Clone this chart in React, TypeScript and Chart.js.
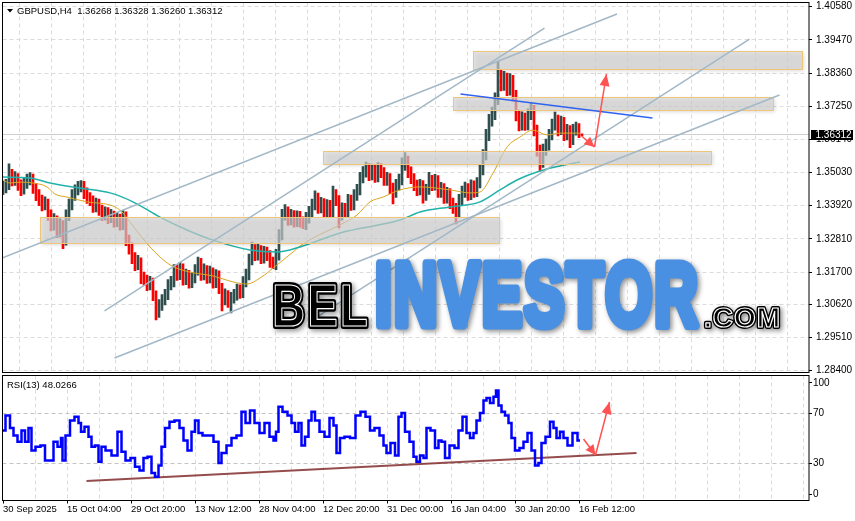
import React, { useEffect, useRef } from 'react';
import { Chart, registerables } from 'chart.js';

Chart.register(...registerables);

// ---------------- data ----------------
const symbolTitle = 'GBPUSD,H4  1.36268 1.36328 1.36260 1.36312';
const rsiTitle = 'RSI(13) 48.0266';
const lastPrice = 1.36312;
const firstOpen = 1.3445;
const barsPerCandle = 3; // each drawn column covers 3 H4 bars

const closes = [
  1.3451, 1.3461, 1.3495, 1.3478, 1.3485, 1.3461, 1.3445, 1.3468, 1.3478, 1.3485,
  1.3451, 1.3428, 1.3411, 1.3395, 1.3401, 1.3361, 1.3328, 1.3344, 1.3304, 1.3328,
  1.3277, 1.3361, 1.3395, 1.3428, 1.3445, 1.3458, 1.3461, 1.3435, 1.3418, 1.3411,
  1.3388, 1.3401, 1.3378, 1.3361, 1.3371, 1.3351, 1.3361, 1.3338, 1.3351, 1.3328,
  1.3361, 1.3277, 1.3251, 1.3217, 1.3194, 1.3204, 1.3150, 1.3144, 1.3127, 1.3137,
  1.3093, 1.3036, 1.3060, 1.3077, 1.3093, 1.3127, 1.3137, 1.3177, 1.3160, 1.3184,
  1.3144, 1.3160, 1.3134, 1.3150, 1.3177, 1.3204, 1.3160, 1.3177, 1.3150, 1.3170,
  1.3134, 1.3160, 1.3117, 1.3077, 1.3093, 1.3070, 1.3083, 1.3093, 1.3110, 1.3100,
  1.3137, 1.3160, 1.3210, 1.3244, 1.3227, 1.3244, 1.3217, 1.3237, 1.3227, 1.3204,
  1.3194, 1.3227, 1.3294, 1.3361, 1.3371, 1.3344, 1.3361, 1.3338, 1.3358, 1.3338,
  1.3328, 1.3351, 1.3371, 1.3395, 1.3418, 1.3384, 1.3401, 1.3371, 1.3395, 1.3371,
  1.3428, 1.3411, 1.3361, 1.3384, 1.3371, 1.3411, 1.3395, 1.3428, 1.3445, 1.3485,
  1.3505, 1.3518, 1.3495, 1.3512, 1.3488, 1.3518, 1.3505, 1.3478, 1.3485, 1.3451,
  1.3438, 1.3461, 1.3478, 1.3528, 1.3545, 1.3505, 1.3485, 1.3461, 1.3445, 1.3461,
  1.3428, 1.3445, 1.3478, 1.3461, 1.3478, 1.3438, 1.3451, 1.3418, 1.3435, 1.3401,
  1.3384, 1.3371, 1.3411, 1.3438, 1.3451, 1.3428, 1.3461, 1.3438, 1.3468, 1.3512,
  1.3562, 1.3629, 1.3679, 1.3696, 1.3746, 1.3829, 1.3796, 1.3820, 1.3779, 1.3813,
  1.3763, 1.3696, 1.3662, 1.3686, 1.3662, 1.3696, 1.3712, 1.3645, 1.3578, 1.3538,
  1.3578, 1.3595, 1.3629, 1.3662, 1.3679, 1.3645, 1.3672, 1.3629, 1.3645, 1.3612,
  1.3645, 1.3652, 1.3639, 1.36312,
];

const highs = [
  1.3474, 1.3480, 1.3532, 1.3514, 1.3506, 1.3500, 1.3479, 1.3486, 1.3498, 1.3503,
  1.3498, 1.3467, 1.3446, 1.3428, 1.3422, 1.3414, 1.3378, 1.3366, 1.3358, 1.3349,
  1.3342, 1.3378, 1.3414, 1.3446, 1.3462, 1.3474, 1.3476, 1.3474, 1.3452, 1.3436,
  1.3425, 1.3418, 1.3414, 1.3394, 1.3388, 1.3386, 1.3380, 1.3374, 1.3370, 1.3364,
  1.3376, 1.3372, 1.3294, 1.3268, 1.3235, 1.3226, 1.3218, 1.3170, 1.3160, 1.3156,
  1.3150, 1.3107, 1.3078, 1.3095, 1.3112, 1.3145, 1.3156, 1.3195, 1.3194, 1.3203,
  1.3198, 1.3180, 1.3176, 1.3168, 1.3195, 1.3220, 1.3216, 1.3198, 1.3192, 1.3190,
  1.3184, 1.3178, 1.3174, 1.3132, 1.3114, 1.3108, 1.3102, 1.3112, 1.3130, 1.3127,
  1.3155, 1.3180, 1.3230, 1.3270, 1.3262, 1.3264, 1.3259, 1.3256, 1.3254, 1.3242,
  1.3220, 1.3246, 1.3312, 1.3380, 1.3396, 1.3388, 1.3380, 1.3376, 1.3375, 1.3373,
  1.3355, 1.3370, 1.3390, 1.3414, 1.3442, 1.3434, 1.3420, 1.3416, 1.3413, 1.3410,
  1.3458, 1.3446, 1.3426, 1.3402, 1.3400, 1.3430, 1.3428, 1.3446, 1.3464, 1.3504,
  1.3523, 1.3538, 1.3533, 1.3531, 1.3527, 1.3536, 1.3533, 1.3520, 1.3504, 1.3500,
  1.3468, 1.3480, 1.3498, 1.3552, 1.3570, 1.3558, 1.3522, 1.3500, 1.3478, 1.3480,
  1.3476, 1.3464, 1.3504, 1.3494, 1.3497, 1.3493, 1.3470, 1.3466, 1.3454, 1.3449,
  1.3418, 1.3400, 1.3430, 1.3458, 1.3471, 1.3466, 1.3479, 1.3475, 1.3486, 1.3528,
  1.3580, 1.3648, 1.3698, 1.3722, 1.3770, 1.3876, 1.3848, 1.3842, 1.3836, 1.3834,
  1.3828, 1.3778, 1.3712, 1.3706, 1.3702, 1.3716, 1.3738, 1.3728, 1.3662, 1.3595,
  1.3598, 1.3615, 1.3648, 1.3682, 1.3705, 1.3695, 1.3692, 1.3688, 1.3664, 1.3660,
  1.3664, 1.3672, 1.3667, 1.36328,
];

const lows = [
  1.3429, 1.3435, 1.3446, 1.3458, 1.3460, 1.3443, 1.3426, 1.3431, 1.3450, 1.3462,
  1.3433, 1.3409, 1.3392, 1.3375, 1.3378, 1.3343, 1.3308, 1.3310, 1.3285, 1.3288,
  1.3248, 1.3260, 1.3342, 1.3378, 1.3410, 1.3428, 1.3438, 1.3416, 1.3400, 1.3392,
  1.3370, 1.3371, 1.3360, 1.3342, 1.3344, 1.3332, 1.3335, 1.3320, 1.3322, 1.3310,
  1.3312, 1.3258, 1.3230, 1.3198, 1.3175, 1.3178, 1.3131, 1.3125, 1.3108, 1.3110,
  1.3074, 1.3010, 1.3018, 1.3042, 1.3060, 1.3078, 1.3110, 1.3120, 1.3142, 1.3145,
  1.3126, 1.3128, 1.3116, 1.3118, 1.3134, 1.3160, 1.3142, 1.3144, 1.3132, 1.3134,
  1.3116, 1.3118, 1.3098, 1.3040, 1.3060, 1.3052, 1.3033, 1.3066, 1.3076, 1.3082,
  1.3084, 1.3120, 1.3144, 1.3194, 1.3208, 1.3210, 1.3198, 1.3200, 1.3208, 1.3186,
  1.3181, 1.3178, 1.3210, 1.3278, 1.3344, 1.3326, 1.3328, 1.3320, 1.3322, 1.3320,
  1.3315, 1.3312, 1.3334, 1.3354, 1.3378, 1.3366, 1.3368, 1.3352, 1.3355, 1.3352,
  1.3354, 1.3392, 1.3318, 1.3344, 1.3352, 1.3355, 1.3376, 1.3378, 1.3410, 1.3428,
  1.3468, 1.3488, 1.3476, 1.3478, 1.3470, 1.3472, 1.3486, 1.3460, 1.3460, 1.3432,
  1.3398, 1.3420, 1.3444, 1.3462, 1.3510, 1.3486, 1.3466, 1.3442, 1.3426, 1.3428,
  1.3401, 1.3410, 1.3430, 1.3442, 1.3444, 1.3420, 1.3420, 1.3400, 1.3401, 1.3382,
  1.3366, 1.3331, 1.3355, 1.3394, 1.3420, 1.3410, 1.3412, 1.3420, 1.3422, 1.3452,
  1.3495, 1.3545, 1.3610, 1.3658, 1.3680, 1.3730, 1.3776, 1.3778, 1.3760, 1.3762,
  1.3742, 1.3676, 1.3642, 1.3645, 1.3644, 1.3646, 1.3680, 1.3626, 1.3558, 1.3508,
  1.3520, 1.3560, 1.3578, 1.3612, 1.3645, 1.3626, 1.3630, 1.3610, 1.3612, 1.3586,
  1.3596, 1.3628, 1.3620, 1.3626,
];

// [bar, price]
const maFast = [
  [0, 1.3478], [7, 1.3468], [17, 1.3471], [30, 1.3468], [44, 1.3455], [52, 1.3431],
  [64, 1.3421], [84, 1.3405], [110, 1.3391], [119, 1.3371], [130, 1.3324], [147, 1.3254],
  [167, 1.3194], [187, 1.3170], [210, 1.3157], [230, 1.3137], [244, 1.3130], [257, 1.3150],
  [274, 1.3194], [290, 1.3237], [297, 1.3257], [310, 1.3284], [337, 1.3328], [354, 1.3361],
  [367, 1.3405], [380, 1.3421], [397, 1.3445], [417, 1.3455], [447, 1.3445], [467, 1.3435],
  [477, 1.3438], [490, 1.3501], [504, 1.3588], [517, 1.3622], [530, 1.3645], [544, 1.3629],
  [557, 1.3635], [577, 1.3635],
];
const maSlow = [
  [0, 1.3488], [27, 1.3485], [47, 1.3468], [77, 1.3451], [107, 1.3435], [130, 1.3405],
  [157, 1.3354], [184, 1.3311], [210, 1.3277], [247, 1.3244], [274, 1.3237], [297, 1.3254],
  [337, 1.3301], [397, 1.3344], [417, 1.3371], [447, 1.3388], [477, 1.3405], [497, 1.3445],
  [514, 1.3478], [537, 1.3508], [557, 1.3525], [577, 1.3538],
];

const priceTicks = [1.4058, 1.3947, 1.3836, 1.3725, 1.3614, 1.3503, 1.3392, 1.3281, 1.317, 1.3062, 1.2951, 1.284];
const timeLabels = ['30 Sep 2025', '15 Oct 04:00', '29 Oct 20:00', '13 Nov 12:00', '28 Nov 04:00', '12 Dec 20:00', '31 Dec 00:00', '16 Jan 04:00', '30 Jan 20:00', '16 Feb 12:00'];
const timeLabelBars = [0, 64, 128, 192, 256, 320, 384, 448, 512, 576];

// trend lines [bar, price]
const channelUpper = [[-1, 1.3217], [614, 1.40336]];
const channelMid = [[101.5, 1.30398], [541.5, 1.39867]];
const channelLower = [[111.5, 1.28825], [776.5, 1.37625]];
const channelInner = [[306.5, 1.3003], [746.5, 1.39499]];
const resistanceLine = [[457.5, 1.37659], [649.5, 1.36856]];
const arrowDown = [[578.5, 1.36253], [591.5, 1.35885]];
const arrowUp = [[591.5, 1.35885], [603.5, 1.38328]];
// zones [barFrom, barTo, priceTop, priceBottom]
const zones = [
  [469.5, 798.5, 1.391, 1.385],
  [449.5, 769.5, 1.3756, 1.3712],
  [319.5, 707.5, 1.3575, 1.3532],
  [36.5, 495.5, 1.3354, 1.3267],
];

// RSI [bar, value]
const rsiSeries = [
  [0, 56], [5, 68], [9, 58], [12, 52], [17, 47], [20, 56], [24, 47], [27, 58], [30, 40], [35, 43],
  [40, 44], [44, 32], [49, 32], [52, 47], [57, 43], [59, 50], [60, 32], [65, 52], [69, 64], [74, 67],
  [77, 62], [79, 55], [84, 59], [87, 51], [90, 43], [94, 44], [97, 31], [100, 43], [105, 40], [112, 36],
  [117, 55], [120, 39], [125, 32], [130, 34], [134, 27], [139, 24], [142, 34], [147, 35], [150, 22], [154, 19],
  [157, 28], [160, 43], [164, 58], [169, 63], [174, 64], [179, 58], [182, 48], [187, 40], [190, 55], [194, 64],
  [197, 54], [202, 52], [207, 52], [214, 47], [217, 30], [220, 38], [227, 44], [230, 50], [237, 52], [240, 71],
  [245, 62], [249, 72], [254, 62], [259, 54], [264, 62], [269, 51], [272, 48], [274, 55], [277, 75], [282, 71],
  [287, 68], [290, 62], [294, 55], [297, 62], [300, 44], [304, 51], [307, 64], [310, 71], [314, 64], [319, 55],
  [324, 51], [329, 66], [332, 60], [335, 38], [339, 50], [344, 51], [350, 50], [355, 68], [360, 71], [365, 67],
  [369, 56], [374, 58], [379, 52], [382, 44], [385, 38], [390, 46], [394, 36], [397, 67], [400, 70], [404, 55],
  [409, 47], [412, 35], [415, 31], [419, 36], [422, 34], [425, 58], [430, 56], [434, 42], [437, 48], [440, 47],
  [444, 34], [449, 44], [454, 42], [457, 56], [462, 67], [465, 54], [469, 50], [472, 54], [475, 64], [479, 70],
  [482, 80], [485, 82], [489, 78], [492, 83], [494, 88], [497, 76], [500, 71], [504, 68], [507, 62], [510, 50],
  [514, 40], [519, 42], [522, 47], [527, 54], [530, 40], [534, 28], [537, 30], [540, 46], [545, 51], [549, 63],
  [552, 58], [555, 50], [559, 55], [562, 50], [567, 44], [572, 54], [577, 48.0266],
];
const rsiTickValues = [5.2, 30, 70, 94.2];
const rsiTickLabels = ['0', '30', '70', '100'];
const rsiLevels = [30, 70];
const rsiTrend = [[83.5, 15.6], [633.5, 38]];
const rsiArrowDown = [[580.5, 49.2], [592.5, 36.4]];
const rsiArrowUp = [[592.5, 36.4], [606.5, 78.8]];

// ---------------- styling ----------------
const W = 855;
const H = 521;
const X_MIN = -0.5;
const X_MAX = 806;
const Y_MIN = 1.283398;
const Y_MAX = 1.4072054;
const UI_FONT = '"Liberation Sans", Arial, sans-serif';
const GRID = '#dcdcdc';
const BULL = '#2f4f4f';
const BEAR = '#ff0000';
const TREND = '#a3b8c7';
const ARROW = '#ff5252';
const gridBars = Array.from({ length: 25 }, (_, k) => 32 * (k + 1));

const toXY = (pts: number[][]) => pts.map(([x, y]) => ({ x, y }));

function arrowHead(ctx: any, x0: number, y0: number, x1: number, y1: number, len: number, half: number) {
  const a = Math.atan2(y1 - y0, x1 - x0);
  const bx = x1 - len * Math.cos(a);
  const by = y1 - len * Math.sin(a);
  ctx.beginPath();
  ctx.moveTo(x1, y1);
  ctx.lineTo(bx + half * Math.sin(a), by - half * Math.cos(a));
  ctx.lineTo(bx - half * Math.sin(a), by + half * Math.cos(a));
  ctx.closePath();
  ctx.fill();
}

function drawWord(ctx: any, text: string, left: number, bottom: number, width: number, height: number,
  color: string, thick: number, gap: number, inline: string | null) {
  const size = (height - thick) / 0.716;
  ctx.save();
  ctx.font = `bold ${size}px ${UI_FONT}`;
  ctx.textBaseline = 'alphabetic';
  ctx.textAlign = 'left';
  const chars = Array.from(text);
  const adv = chars.map((c) => ctx.measureText(c).width);
  const natural = adv.reduce((s, w) => s + w, 0) + gap * (chars.length - 1) + thick;
  const sx = width / natural;
  ctx.translate(left, bottom - thick / 2);
  ctx.scale(sx, 1);
  ctx.lineJoin = 'round';
  ctx.lineWidth = thick;
  ctx.fillStyle = color;
  ctx.strokeStyle = color;
  ctx.shadowColor = 'rgba(0,0,0,0.45)';
  ctx.shadowBlur = 5;
  ctx.shadowOffsetX = 2;
  ctx.shadowOffsetY = 2;
  let cx = thick / 2;
  chars.forEach((c, i) => { ctx.strokeText(c, cx, 0); cx += adv[i] + gap; });
  ctx.shadowColor = 'rgba(0,0,0,0)';
  cx = thick / 2;
  chars.forEach((c, i) => { ctx.fillText(c, cx, 0); cx += adv[i] + gap; });
  if (inline) {
    ctx.strokeStyle = inline;
    ctx.lineWidth = 1.2;
    cx = thick / 2;
    chars.forEach((c, i) => { ctx.strokeText(c, cx, 0); cx += adv[i] + gap; });
  }
  ctx.restore();
}

const mainPlugin = {
  id: 'mainDecor',
  beforeDatasetsDraw(chart: any) {
    const { ctx, chartArea: a, scales } = chart;
    const yp = Math.round(scales.y.getPixelForValue(lastPrice)) + 0.5;
    ctx.save();
    ctx.strokeStyle = '#cfcfcf';
    ctx.lineWidth = 1;
    ctx.beginPath();
    ctx.moveTo(a.left, yp);
    ctx.lineTo(a.right, yp);
    ctx.stroke();
    ctx.restore();
  },
  afterDatasetDraw(chart: any, args: any) {
    const ds = chart.data.datasets[args.index];
    if (ds.label !== 'MA slow') return;
    const { ctx, chartArea: a, scales: { x, y } } = chart;
    ctx.save();
    ctx.beginPath();
    ctx.rect(a.left, a.top, a.right - a.left, a.bottom - a.top);
    ctx.clip();
    zones.forEach(([b0, b1, pTop, pBot]) => {
      const X0 = Math.round(x.getPixelForValue(b0)) + 0.5;
      const X1 = Math.round(x.getPixelForValue(b1)) + 0.5;
      const Y0 = Math.round(y.getPixelForValue(pTop)) + 0.5;
      const Y1 = Math.round(y.getPixelForValue(pBot)) + 0.5;
      ctx.shadowColor = 'rgba(0,0,0,0.22)';
      ctx.shadowBlur = 4;
      ctx.shadowOffsetX = 1;
      ctx.shadowOffsetY = 1;
      ctx.fillStyle = 'rgba(212,212,212,0.66)';
      ctx.fillRect(X0, Y0, X1 - X0, Y1 - Y0);
      ctx.shadowColor = 'rgba(0,0,0,0)';
      ctx.strokeStyle = '#efc57a';
      ctx.lineWidth = 1;
      ctx.strokeRect(X0, Y0, X1 - X0, Y1 - Y0);
    });
    ctx.restore();
  },
  afterDraw(chart: any) {
    const { ctx, chartArea: a, scales: { x, y } } = chart;
    ctx.save();
    // arrow heads
    ctx.fillStyle = ARROW;
    [arrowDown, arrowUp].forEach((seg, i) => {
      const x0 = x.getPixelForValue(seg[0][0]);
      const y0 = y.getPixelForValue(seg[0][1]);
      const x1 = x.getPixelForValue(seg[1][0]);
      const y1 = y.getPixelForValue(seg[1][1]);
      arrowHead(ctx, x0, y0, x1, y1, i === 0 ? 10 : 12, 5);
    });
    // watermark
    drawWord(ctx, 'BEL', 270, 329, 100, 48, '#000000', 6, 3, '#ffffff');
    drawWord(ctx, 'INVESTOR', 372, 329, 329, 73, '#4a90e2', 9, 3, null);
    drawWord(ctx, '.COM', 702, 329, 80, 24, '#000000', 4, 1, '#ffffff');
    // frame
    ctx.strokeStyle = '#000';
    ctx.lineWidth = 1;
    ctx.strokeRect(2.5, a.top, a.right - 2.5, a.bottom - a.top);
    // header
    ctx.fillStyle = '#000';
    ctx.beginPath();
    ctx.moveTo(7, 9);
    ctx.lineTo(13, 9);
    ctx.lineTo(10, 12.5);
    ctx.closePath();
    ctx.fill();
    ctx.font = `9.5px ${UI_FONT}`;
    ctx.textBaseline = 'middle';
    ctx.textAlign = 'left';
    ctx.fillText(symbolTitle, 17, 11);
    // current price label
    const yp = Math.round(y.getPixelForValue(lastPrice));
    ctx.fillStyle = '#000';
    ctx.fillRect(811, yp - 4, 42, 10);
    ctx.fillStyle = '#fff';
    ctx.font = `10px ${UI_FONT}`;
    ctx.fillText(lastPrice.toFixed(5), 815.5, yp + 1);
    ctx.restore();
  },
};

const rsiPlugin = {
  id: 'rsiDecor',
  afterDraw(chart: any) {
    const { ctx, chartArea: a, scales: { x, y } } = chart;
    ctx.save();
    ctx.fillStyle = ARROW;
    [rsiArrowDown, rsiArrowUp].forEach((seg, i) => {
      const x0 = x.getPixelForValue(seg[0][0]);
      const y0 = y.getPixelForValue(seg[0][1]);
      const x1 = x.getPixelForValue(seg[1][0]);
      const y1 = y.getPixelForValue(seg[1][1]);
      arrowHead(ctx, x0, y0, x1, y1, i === 0 ? 10 : 12, 5);
    });
    ctx.strokeStyle = '#000';
    ctx.lineWidth = 1;
    ctx.strokeRect(2.5, a.top, a.right - 2.5, a.bottom - a.top);
    ctx.fillStyle = '#000';
    ctx.font = `9.5px ${UI_FONT}`;
    ctx.textBaseline = 'middle';
    ctx.textAlign = 'left';
    ctx.fillText(rsiTitle, 7, 385);
    ctx.restore();
  },
};

export default function App() {
  const mainRef = useRef<HTMLCanvasElement>(null);
  const rsiRef = useRef<HTMLCanvasElement>(null);

  useEffect(() => {
    const candleData = closes.map((c, i) => ({ x: i * barsPerCandle, y: [lows[i], highs[i]] }));
    const candleColors = closes.map((c, i) => {
      const o = i === 0 ? firstOpen : closes[i - 1];
      return c >= o ? BULL : BEAR;
    });

    const lineDs = (label: string, pts: number[][], color: string, width: number, order: number, extra: any = {}) => ({
      type: 'line',
      label,
      data: toXY(pts),
      borderColor: color,
      borderWidth: width,
      pointRadius: 0,
      fill: false,
      order,
      ...extra,
    });

    const main = new Chart(mainRef.current as HTMLCanvasElement, {
      type: 'bar',
      data: {
        datasets: [
          {
            type: 'bar',
            label: 'GBPUSD',
            data: candleData,
            backgroundColor: candleColors,
            barThickness: 2,
            grouped: false,
            borderWidth: 0,
            order: 6,
          },
          lineDs('MA fast', maFast, '#daa520', 1, 5, { cubicInterpolationMode: 'monotone' }),
          lineDs('MA slow', maSlow, '#20b2aa', 1.5, 4, { cubicInterpolationMode: 'monotone' }),
          lineDs('channel upper', channelUpper, TREND, 1.5, 3),
          lineDs('channel mid', channelMid, TREND, 1.5, 3),
          lineDs('channel lower', channelLower, TREND, 1.5, 3),
          lineDs('channel inner', channelInner, TREND, 1.5, 3),
          lineDs('resistance', resistanceLine, '#2f62f0', 1.5, 2),
          lineDs('arrow down', arrowDown, ARROW, 1.5, 1),
          lineDs('arrow up', arrowUp, ARROW, 1.5, 1),
        ] as any,
      },
      options: {
        animation: false,
        responsive: false,
        maintainAspectRatio: false,
        devicePixelRatio: 1,
        events: [],
        layout: { padding: { left: 2.5, top: 2.5, right: 0, bottom: H - 372.5 } },
        plugins: { legend: { display: false }, tooltip: { enabled: false } },
        scales: {
          x: {
            type: 'linear',
            min: X_MIN,
            max: X_MAX,
            offset: false,
            afterBuildTicks: (s: any) => { s.ticks = gridBars.map((v) => ({ value: v })); },
            afterFit: (s: any) => { s.height = 0; s.paddingLeft = 0; s.paddingRight = 0; },
            ticks: { display: false },
            grid: { color: GRID, drawTicks: false, lineWidth: 1 },
            border: { display: false, dash: [4, 3] },
          },
          y: {
            position: 'right',
            min: Y_MIN,
            max: Y_MAX,
            afterBuildTicks: (s: any) => { s.ticks = priceTicks.map((v) => ({ value: v })); },
            afterFit: (s: any) => { s.width = 46; s.paddingTop = 0; s.paddingBottom = 0; },
            ticks: {
              autoSkip: false,
              padding: 4,
              color: '#000',
              font: { family: UI_FONT, size: 10 },
              callback: (v: any) => Number(v).toFixed(5),
            },
            grid: { color: GRID, tickColor: '#000', tickLength: 3, lineWidth: 1 },
            border: { display: false, dash: [4, 3] },
          },
        },
      } as any,
      plugins: [mainPlugin],
    });

    const rsi = new Chart(rsiRef.current as HTMLCanvasElement, {
      type: 'line',
      data: {
        datasets: [
          lineDs('RSI', rsiSeries, '#0000ff', 2.5, 2, { stepped: 'middle' }),
          lineDs('RSI trend', rsiTrend, 'rgba(130,45,45,0.85)', 2, 3),
          lineDs('RSI arrow down', rsiArrowDown, ARROW, 1.5, 1),
          lineDs('RSI arrow up', rsiArrowUp, ARROW, 1.5, 1),
        ] as any,
      },
      options: {
        animation: false,
        responsive: false,
        maintainAspectRatio: false,
        devicePixelRatio: 1,
        events: [],
        layout: { padding: { left: 2.5, top: 375.5, right: 0, bottom: 0 } },
        plugins: { legend: { display: false }, tooltip: { enabled: false } },
        scales: {
          x: {
            type: 'linear',
            min: X_MIN,
            max: X_MAX,
            offset: false,
            afterBuildTicks: (s: any) => { s.ticks = [0, ...gridBars].map((v) => ({ value: v })); },
            afterFit: (s: any) => { s.height = H - 500.5; s.paddingLeft = 0; s.paddingRight = 0; },
            ticks: {
              autoSkip: false,
              maxRotation: 0,
              minRotation: 0,
              align: 'start',
              padding: 0,
              color: '#000',
              font: { family: UI_FONT, size: 9.5 },
              callback: (v: any) => {
                const i = timeLabelBars.indexOf(Number(v));
                return i >= 0 ? timeLabels[i] : '';
              },
            },
            grid: {
              color: (c: any) => (c.tick && c.tick.value === 0 ? 'rgba(0,0,0,0)' : GRID),
              tickColor: (c: any) => (c.tick && timeLabelBars.indexOf(c.tick.value) >= 0 ? '#000' : 'rgba(0,0,0,0)'),
              tickLength: 3,
              lineWidth: 1,
            },
            border: { display: false, dash: [4, 3] },
          },
          y: {
            position: 'right',
            min: 0,
            max: 100,
            afterBuildTicks: (s: any) => { s.ticks = rsiTickValues.map((v) => ({ value: v })); },
            afterFit: (s: any) => { s.width = 46; s.paddingTop = 0; s.paddingBottom = 0; },
            ticks: {
              autoSkip: false,
              padding: 1,
              color: '#000',
              font: { family: UI_FONT, size: 10 },
              callback: (v: any) => rsiTickLabels[rsiTickValues.indexOf(Number(v))],
            },
            grid: {
              color: (c: any) => (c.tick && rsiLevels.indexOf(c.tick.value) >= 0 ? '#c4c4c4' : 'rgba(0,0,0,0)'),
              tickColor: '#000',
              tickLength: 3,
              lineWidth: 1,
            },
            border: { display: false, dash: [4, 3] },
          },
        },
      } as any,
      plugins: [rsiPlugin],
    });

    return () => {
      main.destroy();
      rsi.destroy();
    };
  }, []);

  return (
    <div style={{ position: 'absolute', left: 0, top: 0, width: W, height: H, background: '#ffffff' }}>
      <canvas ref={mainRef} width={W} height={H} style={{ position: 'absolute', left: 0, top: 0 }} />
      <canvas ref={rsiRef} width={W} height={H} style={{ position: 'absolute', left: 0, top: 0 }} />
    </div>
  );
}
